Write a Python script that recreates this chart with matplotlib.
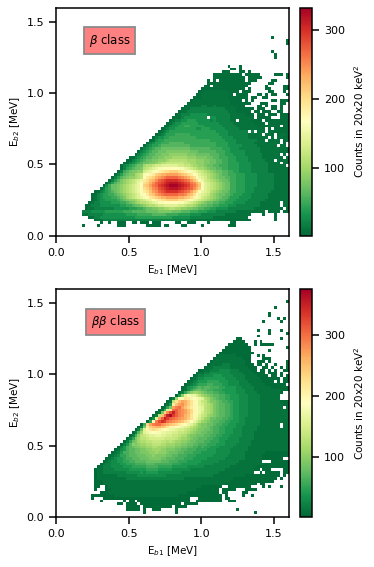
import matplotlib
matplotlib.use('Agg')
import matplotlib.pyplot as plt
import numpy as np

LEVELS = '0123456789abcdefghijklmnopqrstuvwxyzAB'
N_BINS = 80
edges = np.arange(N_BINS + 1) * 0.02

# rows go from the top of the panel downwards, blocks of 10 columns
beta_top_row = 69
beta_rows = [
    ".......... .......... .......... .......... .......... .......... .......... ....0.....",
    ".......... .......... .......... .......... .......... .......... .......... .........0",
    ".......... .......... .......... .......... .......... .......... .......... .........0",
    "",
    "",
    ".......... .......... .......... .......... .......... .......... .......... ....0.....",
    ".......... .......... .......... .......... .......... .......... .......... .....0....",
    ".......... .......... .......... .......... .......... .......... .......... .....0....",
    "",
    "",
    ".......... .......... .......... .......... .......... .........0 ...0...... ..........",
    ".......... .......... .......... .......... .......... .......... 00.0...... ..........",
    ".......... .......... .......... .......... .......... .......000 ...00.0... ..........",
    ".......... .......... .......... .......... .......... ....000000 0000.00000 .....000.0",
    ".......... .......... .......... .......... .......... ....000000 00000.0000 0........0",
    ".......... .......... .......... .......... .......... ..0.0.0000 00000.000. ....00....",
    ".......... .......... .......... .......... .......... ..00000000 0000000... ...00.....",
    ".......... .......... .......... .......... .......... .00.000000 000000.... ..0.....00",
    ".......... .......... .......... .......... .......... 0000000000 00000.0... ..00....00",
    ".......... .......... .......... .......... .........0 0111111110 000.000... ...00...0.",
    ".......... .......... .......... .......... ........00 1111111111 0.0000...0 0.0.00...0",
    ".......... .......... .......... .......... .......000 1111111110 000000.00. .00.......",
    ".......... .......... .......... .......... ......0111 1111111111 0000.0.0.. ....00.000",
    ".......... .......... .......... .......... .....01111 1111111111 0000000... 000....00.",
    ".......... .......... .......... .......... ....011111 2211211111 10000....0 0.0.00.0..",
    ".......... .......... .......... .......... ...0112222 2222222211 11000000.0 00..00.0..",
    ".......... .......... .......... .......... ..01122222 2222222221 1100000.00 .000..00..",
    ".......... .......... .......... .......... .012223333 3322222222 11111000.0 00.000.000",
    ".......... .......... .......... .......... 0112333333 33.3322222 11111110.0 0000...000",
    ".......... .......... .......... .........0 1223344433 3332322222 11.1111000 0.00000000",
    ".......... .......... .......... ........01 2334444443 3333332222 2111111100 00.0000000",
    ".......... .......... .......... .......012 3344554444 4333333222 2211111110 0000000.00",
    ".......... .......... .......... ......0123 3444444433 4443333322 2221111111 10.0.00000",
    ".......... .......... .......... .....01234 4444444444 4444433332 222222.2.1 11.1100000",
    ".......... .......... .......... ....012344 4555554444 4444443332 2222221111 1.110.0110",
    ".......... .......... .......... ...0233445 5555555544 4444444333 3222221111 111.1.1100",
    ".......... .......... .......... ..01344555 5555555555 5554444433 3322222221 11.1111.01",
    ".......... .......... .......... .023445556 6666555555 5555544443 3322222211 1111111.0.",
    ".......... .......... .......... 0234456666 6666665555 5555544443 3333222221 111111.11.",
    ".......... .......... .........0 2345667777 7777776666 6665555444 3332222222 1111111110",
    ".......... .......... ........02 3456677788 8888887776 6666655544 3333322222 1111111110",
    ".......... .......... .......023 4566778889 9999988877 7776665544 4333322222 2111111.1.",
    ".......... .......... .....00234 5667788999 aaaaa99988 8877665554 4433332222 21111111.1",
    ".......... .......... ....002345 67788999ab bbbbbaaa99 9887766554 4433332222 22111.1111",
    ".......... .......... ...0023456 77889abbcc ccccbbaa99 9887766554 4443333222 2221111.11",
    ".......... .......... ..02345677 abbcddeeee eeddccbaa9 9877665554 4443333222 222111111.",
    ".......... .......... ..02456778 bcdefgghhh hhggfedcba a987766554 4443333222 2221111111",
    ".......... .......... .025678899 defghijkkl llkjihgfed cba9877665 5443333222 2221111111",
    ".......... .......... 0246788abc ghijlmnnoo oonmlkjhge dcba987665 5544433332 2222211111",
    ".......... .........0 2467899abc hjklnopqrr rrqponlkhf edba987766 5544433332 2222211111",
    ".......... ........02 4689abcdef jkmnprstuu uutsrqomkh fdcba98776 5544433332 2222211111",
    ".......... .......024 6789abcdfg klnprstuvw wwvutsqpnl gedcba9877 5544433332 2222211111",
    ".......... ......0357 789abcdefh lmoqrtuvwx xxwvutrqom gedcba9877 5544433332 2222211111",
    ".......... .....02457 789abcdefg klnpqstuvw wwvutsrpnl gedcba9877 5544433322 2222211111",
    ".......... ...0023456 789abcdefh jkmoprstuu uutsrqomkh fedba98776 5544433322 2222111111",
    ".......... ..00234455 6789abcdeg hjlmopqrrr rrqqpnmkhf edca987766 5444333222 2221111111",
    ".......... ..01234445 5678abcdef ghjklmnnoo oonnmlkigf dcba987665 4443333222 2221111111",
    ".......... ..01233444 4567899abc defhijkkll llkkjihfed cba9876654 4433332222 2211111111",
    ".......... .012233334 44556789ab bcdefgghhh hhggfedcba 9877665544 4333322222 1111111.11",
    ".......... 0122233333 3344556778 9abbcddeee eeddcbba98 7766554443 3322222222 1111111.11",
    ".......... 0112222222 3333344455 6778899aab baa9988776 6554433332 2222222211 11111110.0",
    ".........2 2233333444 4445556666 6777788888 7776665554 4433322222 2211111111 11.0110.00",
    ".........1 1222223333 3333444455 5556666655 5544443333 2222222211 1111111... .0...0....",
    ".......... .012233333 3333333444 4444444444 3333332222 2222111111 111111.... .....0....",
    ".......... ...0112222 2222222222 2222222222 2222221111 1111111100 0000000... .....0....",
    ".......... .....0..0. .000..00.0 00.000.... .00..000.. ..0....... 00........ ..........",
    ".........0 ....0..... .000...... .00000.00. ...00..... 0........0 00........ ..........",
]

bb_top_row = 75
bb_rows = [
    ".......... .......... .......... .......... .......... .......... .......... .........0",
    "",
    ".......... .......... .......... .......... .......... .......... .......... .....0....",
    "",
    ".......... .......... .......... .......... .......... .......... .......... ...0......",
    ".......... .......... .......... .......... .......... .......... .......... ...0......",
    ".......... .......... .......... .......... .......... .......... .......... ......0.0.",
    ".......... .......... .......... .......... .......... .......... .......... .0.....0..",
    "",
    "",
    ".......... .......... .......... .......... .......... .......... .........0 ...0...0..",
    ".......... .......... .......... .......... .......... .......... .......... ...0.....0",
    ".......... .......... .......... .......... .......... .......... .........0 ..........",
    ".......... .......... .......... .......... .......... .......... ..00...... .......0..",
    ".......... .......... .......... .......... .......... .......... .0000...0. 0.........",
    ".......... .......... .......... .......... .......... .........0 000000..0. 00000.....",
    ".......... .......... .......... .......... .......... ........00 0000000... .........0",
    ".......... .......... .......... .......... .......... .......000 0000000... ...0......",
    ".......... .......... .......... .......... .......... ......0000 00000000.. ..........",
    ".......... .......... .......... .......... .......... .....01111 1100000..0 .0........",
    ".......... .......... .......... .......... .......... ....011111 1111000... .000......",
    ".......... .......... .......... .......... .......... ...0111111 1111100..0 00.0.....0",
    ".......... .......... .......... .......... .......... ..01111222 11111000.0 0.0..0...0",
    ".......... .......... .......... .......... .......... .011222222 111111000. .00.0..0.0",
    ".......... .......... .......... .......... .........0 0112223333 222111100. 00.0.0..00",
    ".......... .......... .......... .......... ........01 1223333333 2222111100 00.000.0..",
    ".......... .......... .......... .......... .......012 2333444333 3222211110 000.00.0.0",
    ".......... .......... .......... .......... ......0123 3444444433 3322211111 0000000.00",
    ".......... .......... .......... .......... .....01234 4455554443 3332221111 10000.0.00",
    ".......... .......... .......... .......... ....012345 5566555443 3332222111 110000000.",
    ".......... .......... .......... .......... ...0134567 6776665544 4433222211 1111000000",
    ".......... .......... .......... .......... ...0135788 7766555444 4433322211 1111111000",
    ".......... .......... .......... .......... ..0258abba 9877665544 4433322221 11111110..",
    ".......... .......... .......... .......... .04agihhfd ba98776655 4443332222 1111111...",
    ".......... .......... .......... .........0 2bikmlkjih gcb9876655 4443332222 1111111...",
    ".......... .......... .......... ........01 dmprqomkig edb9987665 5443332222 1111111000",
    ".......... .......... .......... .......014 lprsqomkig fdcb987766 5443332222 1111111100",
    ".......... .......... .......... ......0159 rturpnlkih gdcb987766 5443332222 11111111.1",
    ".......... .......... .......... .....016gm uvtsrpnkih gdcb987766 5443332222 1111111111",
    ".......... .......... .......... ....019nsw zvtsrpnkih fdcb987766 5443332222 1111111111",
    ".......... .......... .......... ...02dpuzB xvtsqpmkig edba987766 5443332222 1111111111",
    ".......... .......... .......... ..03grvzxv utsrqomkhf dba8877665 5443322222 1111111111",
    ".......... .......... .......... .05ktwyxut srqpnljhfd ba98776655 4443322222 1111111111",
    ".......... .......... .........0 6nrtuusrqp onlkjhgeca 9988766554 4433322222 1111111.11",
    ".......... .......... ........02 9lopqqpomk kjihgfdcba 9987665544 4433222221 1111111.11",
    ".......... .......... .......028 gkmnmlkjih hgffedcba9 9887665544 4333222221 1111111111",
    ".......... .......... ......027b ghijiihhgg ffeedcba99 8877665544 4333222211 1111111111",
    ".......... .......... .....026ad efgghhggff eedcca9988 8776655444 3333222211 1111111111",
    ".......... .......... ....0259bd defffffeee edcbba9887 7766554443 3332222211 1111111111",
    ".......... .......... ...02589bc cddeeeddcd cbbaa98877 7665554433 3332222111 1111111111",
    ".......... .......... ..0247a9ab bccdddccbb baa9988776 6655544433 3322222111 1111111111",
    ".......... .......... .02467899a abbccbbbaa a998877665 6554443333 3222221111 1111111111",
    ".......... .......... 0134677889 9aabbbaa99 9887766655 5544433333 2222221111 1111111111",
    ".......... .........0 1246677889 99aabaaa98 8877666555 4444433333 2222211111 1100000000",
    ".......... ........01 2355677788 899a999988 7766655544 4444333332 2222211111 1000000000",
    ".......... .......012 3445667778 8899998877 7666555444 4433333322 2222211111 10000000..",
    ".......... ......0123 3445566777 7888887776 6655544444 3333332222 2221111111 0...000000",
    ".......... .....01223 3344555666 6777666666 5554444443 3333222222 2211111111 1100000000",
    ".......... ....012223 3334445555 5666655555 4444433333 3222222222 1111111110 0000000000",
    ".......... ...0112222 3333344444 4555544444 3333332222 2222222211 1111111100 .000....00",
    ".......... ...0112222 2222333334 3444433333 3332222222 2222221111 11111111.. 0.00000.00",
    ".......... ...0111111 1222222233 3333333322 2222222222 2222111111 1111100000 0000000.0.",
    ".......... ...0111111 1111222222 2222222222 2222111111 1111111111 1000000000 000000.0..",
    ".......... ...0001111 1111111111 1111111111 1111111111 1111111111 0000000000 00000.....",
    ".......... ...0001111 1111111111 1111111111 1111111111 1111111100 000000000. 00........",
    ".......... ...00..011 1111111111 1111111111 1111111111 0000000..0 0000000... .0.0...0..",
    ".......... ...0...001 1111111111 1111111111 1111111100 000000.000 00...0000. ..........",
    ".......... .....00011 1111111111 1111111111 1111100000 000000.00. ....00.... ..........",
    ".......... ..00000000 1111111111 1111111111 1100000000 0000000.0. ....0..0.. ..........",
    ".......... ..0...0000 0000000000 0000000000 000000...0 0000000.00 .......... ..........",
    ".......... .....0.... ...0.00.00 0000000000 000000..00 0000000..0 00........ ..........",
    ".......... .......... .00.0000.0 0000000000 000.00000. .......... .......... ..........",
    ".......... .......... ....00000. 0000000000 .0000..... .......... .......... ..........",
    ".......... .......... ....00000. 0..000.... .0........ .......... ..0....... ..........",
    ".......... .......... .......... 0......... .0........ .......... ........0. ..........",
]


def rows_to_counts(rows, top_row):
    counts = np.full((N_BINS, N_BINS), np.nan)
    for i, row in enumerate(rows):
        for col, ch in enumerate(row.replace(' ', '')):
            if ch != '.':
                level = LEVELS.index(ch)
                counts[top_row - i, col] = level * 10 if level > 0 else 5
    return np.ma.masked_invalid(counts)


plt.rcParams['font.size'] = 7.5
plt.rcParams['axes.linewidth'] = 1.1

W, H = 374, 567
fig = plt.figure(figsize=(W / 100, H / 100), dpi=100)


def panel(top_px, bottom_px, rows, top_row, vmax, ticks, label, box_xy):
    ax = fig.add_axes([56 / W, 1 - bottom_px / H, 232.6 / W, (bottom_px - top_px) / H])
    cax = fig.add_axes([300.3 / W, 1 - bottom_px / H, 12 / W, (bottom_px - top_px) / H])
    mesh = ax.pcolormesh(edges, edges, rows_to_counts(rows, top_row), cmap='RdYlGn_r', vmin=1, vmax=vmax)
    ax.set_xlim(0, 1.6)
    ax.set_ylim(0, 1.6)
    ax.set_xticks([0, 0.5, 1.0, 1.5])
    ax.set_yticks([0, 0.5, 1.0, 1.5])
    ax.set_xlabel('E$_{b1}$ [MeV]', fontsize=7.5, labelpad=4)
    ax.set_ylabel('E$_{b2}$ [MeV]', fontsize=7.5, labelpad=3)
    ax.tick_params(length=5, width=1.1, labelsize=8)
    ax.text(box_xy[0], box_xy[1], label, fontsize=8.5, ha='center', va='center',
            bbox=dict(facecolor='#ff8080', edgecolor='#8a8a8a', linewidth=1.3, boxstyle='square,pad=0.4'))
    cb = fig.colorbar(mesh, cax=cax, ticks=ticks)
    cb.set_label('Counts in 20x20 keV$^2$', fontsize=7.5, labelpad=5)
    cb.ax.tick_params(length=5, width=1.1, labelsize=8)


panel(7.7, 235.7, beta_rows, beta_top_row, 333, [100, 200, 300], r'$\beta$ class', (0.37, 1.37))
panel(289, 516.7, bb_rows, bb_top_row, 376, [100, 200, 300], r'$\beta\beta$ class', (0.41, 1.37))

fig.savefig('out.png', dpi=100)
